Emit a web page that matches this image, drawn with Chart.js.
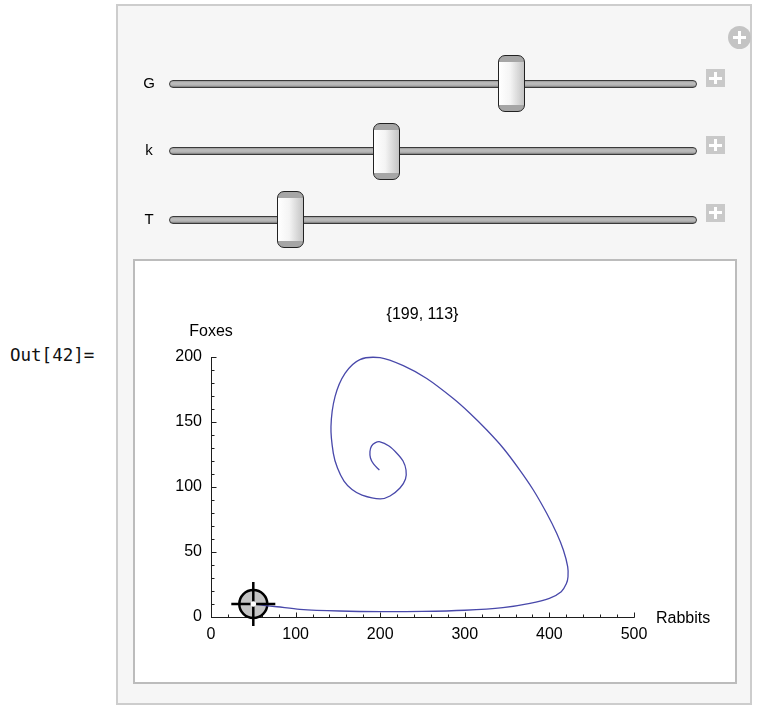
<!DOCTYPE html>
<html><head><meta charset="utf-8">
<script src="https://cdn.jsdelivr.net/npm/chart.js@4"></script>
<style>
html,body{margin:0;padding:0;background:#fff;}
body{width:771px;height:707px;position:relative;overflow:hidden;font-family:"Liberation Sans",Arial,sans-serif;}
.abs{position:absolute;}
#out{left:10px;top:343px;font-family:"DejaVu Sans Mono",monospace;font-size:17.5px;line-height:24px;color:#111;}
#outer{left:116px;top:4px;width:636px;height:701px;box-sizing:border-box;border:2px solid #cdcdcd;background:#f6f6f6;}
#inner{left:133px;top:259px;width:604px;height:425px;box-sizing:border-box;border:2px solid #bcbcbc;background:#fff;}
.lbl{font-size:15px;width:20px;text-align:center;line-height:18px;color:#000;}
.track{left:169px;width:528px;height:8px;box-sizing:border-box;border:1px solid #3a3a3a;border-radius:4px;background:linear-gradient(#9a9a9a 0,#bdbdbd 30%,#b4b4b4 70%,#7a7a7a 100%);}
.thumb{width:27px;height:57px;box-sizing:border-box;border:1.3px solid #222;border-radius:7px;background:linear-gradient(to bottom,#a6a6a6 0,#a6a6a6 6px,rgba(0,0,0,0) 6px,rgba(0,0,0,0) calc(100% - 6px),#a6a6a6 calc(100% - 6px)),linear-gradient(to right,#ffffff 0,#f4f4f4 45%,#c4c4c4 100%);}
.plus{left:706px;width:19px;height:18px;background:#c9c9c9;}
.plus:before,.plus:after{content:"";position:absolute;background:#fff;}
.plus:before{left:8px;top:3px;width:3px;height:12px;}
.plus:after{left:3px;top:7.5px;width:13px;height:3px;}
#circ{left:728px;top:26px;width:23px;height:23px;border-radius:50%;background:#c4c4c4;}
#circ:before,#circ:after{content:"";position:absolute;background:#fff;}
#circ:before{left:10px;top:5px;width:3px;height:13px;}
#circ:after{left:5px;top:10px;width:13px;height:3px;}
canvas{position:absolute;left:0;top:0;}
</style></head>
<body>
<div id="out" class="abs">Out[42]=</div>
<div id="outer" class="abs"></div>
<div id="circ" class="abs"></div>
<div id="inner" class="abs"></div>
<canvas id="c" width="771" height="707"></canvas>
<script>
// ---- data ----
const rabbits = [50, 62, 78, 105, 152, 200, 250, 300, 345, 377, 400, 414, 420, 422, 421.6, 416.5, 408.6, 396.8, 381, 365, 345.5, 326, 306, 286.4, 255, 227.3, 199.8, 176, 158.4, 146.6, 141.8, 144.6, 149.5, 157.2, 166.7, 178.5, 199.8, 211.6, 223.4, 229.9, 230.5, 227, 219.9, 210.4, 199.8, 193.9, 189.7, 187.9, 188.5, 192.1, 199];
const foxes   = [10, 9, 7.9, 5.9, 4.6, 4.1, 4.3, 5.2, 7.2, 10.5, 14.4, 19.5, 25.5, 31, 38.7, 51.5, 64.4, 79.8, 97.7, 113, 129.8, 143.8, 156.7, 168, 183.4, 193.3, 199.5, 198, 187.4, 169.5, 146.4, 125.9, 114.6, 104.6, 98.1, 93.8, 90.8, 93.1, 99.2, 106.2, 113.1, 120, 125.8, 131.5, 134.8, 134, 131.5, 127.3, 122.3, 117.7, 113];
const xTicks = [0, 100, 200, 300, 400, 500];
const yTicks = [0, 50, 100, 150, 200];
const xMinorStep = 20, yMinorStep = 10;
const locatorRabbits = 50, locatorFoxes = 10;
const sliderNames = ['G', 'k', 'T'];
const sliderValues = [0.657, 0.407, 0.215];
const xTitle = 'Rabbits', yTitle = 'Foxes';

// ---- sliders (controls) ----
const rowCenters = [83.5, 151, 219.5];
const plusCenters = [78, 145, 212.5];
sliderNames.forEach((n, i) => {
  const cy = rowCenters[i];
  const l = document.createElement('div'); l.className = 'abs lbl'; l.textContent = n;
  l.style.left = '139px'; l.style.top = (cy - 10) + 'px'; document.body.appendChild(l);
  const t = document.createElement('div'); t.className = 'abs track';
  t.style.top = (cy - 4) + 'px'; document.body.appendChild(t);
  const th = document.createElement('div'); th.className = 'abs thumb';
  const c = 182.5 + sliderValues[i] * 500;
  th.style.left = (c - 13.5) + 'px'; th.style.top = (cy - 28.5) + 'px'; document.body.appendChild(th);
  const p = document.createElement('div'); p.className = 'abs plus';
  p.style.top = (plusCenters[i] - 9) + 'px'; document.body.appendChild(p);
});

// ---- chart ----
const curve = rabbits.map((r, i) => ({x: r, y: foxes[i]}));
const loc = [{x: locatorRabbits, y: locatorFoxes}];
const FONT = 'Liberation Sans, Arial, sans-serif';

const mmaAxes = {
  id: 'mmaAxes',
  beforeDatasetsDraw(chart) {
    const {ctx, scales: {x, y}} = chart;
    const x0 = Math.round(x.getPixelForValue(0)) + 0.5;
    const y0 = Math.round(y.getPixelForValue(0)) + 0.5;
    const xMax = xTicks[xTicks.length - 1], yMax = yTicks[yTicks.length - 1];
    const xe = x.getPixelForValue(xMax), yt = y.getPixelForValue(yMax);
    ctx.save();
    ctx.strokeStyle = '#1e1e1e'; ctx.lineWidth = 1;
    ctx.beginPath();
    ctx.moveTo(x0 - 0.5, y0); ctx.lineTo(xe + 0.5, y0);
    ctx.moveTo(x0, y0 + 0.5); ctx.lineTo(x0, yt);
    for (let v = 0; v <= xMax + 1e-9; v += xMinorStep) {
      const px = Math.round(x.getPixelForValue(v)) + 0.5;
      const len = xTicks.includes(v) ? 5 : 3;
      ctx.moveTo(px, y0); ctx.lineTo(px, y0 - len);
    }
    for (let v = 0; v <= yMax + 1e-9; v += yMinorStep) {
      const py = Math.round(y.getPixelForValue(v)) + 0.5;
      const len = yTicks.includes(v) ? 5 : 3;
      ctx.moveTo(x0, py); ctx.lineTo(x0 + len, py);
    }
    ctx.stroke();
    ctx.restore();
  },
  afterDraw(chart) {
    const {ctx, scales: {x, y}, chartArea} = chart;
    const x0 = x.getPixelForValue(0), y0 = y.getPixelForValue(0);
    const xe = x.getPixelForValue(xTicks[xTicks.length - 1]);
    const yt = y.getPixelForValue(yTicks[yTicks.length - 1]);
    ctx.save();
    ctx.fillStyle = '#000';
    ctx.font = '16px ' + FONT;
    ctx.textBaseline = 'middle';
    ctx.textAlign = 'center';
    ctx.fillText(yTitle, x0, yt - 25);
    const last = rabbits.length - 1;
    ctx.fillText('{' + rabbits[last] + ', ' + foxes[last] + '}', (chartArea.left + chartArea.right) / 2, yt - 42);
    ctx.textAlign = 'left';
    ctx.fillText(xTitle, xe + 22, y0 + 2);
    ctx.restore();
  }
};

new Chart(document.getElementById('c'), {
  type: 'scatter',
  data: {
    datasets: [
      {data: curve, showLine: true, borderColor: '#4848aa', borderWidth: 1.3, pointRadius: 0, tension: 0.3, clip: false, order: 2},
      {data: loc, pointStyle: 'circle', pointRadius: 14, backgroundColor: '#c4c4c4', borderColor: '#000', borderWidth: 2.5, clip: false, order: 3},
      {data: loc, pointStyle: 'cross', pointRadius: 22, borderColor: '#000', borderWidth: 2.5, clip: false, order: 1},
      {data: loc, pointStyle: 'circle', pointRadius: 2.8, backgroundColor: '#fff', borderColor: '#fff', borderWidth: 0, clip: false, order: 0}
    ]
  },
  options: {
    responsive: false, animation: false, events: [],
    layout: {padding: {left: 161, right: 137, top: 357, bottom: 50}},
    plugins: {legend: {display: false}, tooltip: {enabled: false}},
    scales: {
      x: {
        type: 'linear', min: 0, max: xTicks[xTicks.length - 1],
        grid: {display: false, drawTicks: false}, border: {display: false},
        ticks: {font: {family: FONT, size: 16}, color: '#000', padding: 8, maxRotation: 0, autoSkip: false},
        afterBuildTicks(s) { s.ticks = xTicks.map(v => ({value: v})); },
        afterFit(s) { s.height = 40; }
      },
      y: {
        type: 'linear', min: 0, max: yTicks[yTicks.length - 1],
        grid: {display: false, drawTicks: false}, border: {display: false},
        ticks: {font: {family: FONT, size: 16}, color: '#000', padding: 9, autoSkip: false},
        afterBuildTicks(s) { s.ticks = yTicks.map(v => ({value: v})); },
        afterFit(s) { s.width = 50; }
      }
    }
  },
  plugins: [mmaAxes]
});
</script>
</body></html>
